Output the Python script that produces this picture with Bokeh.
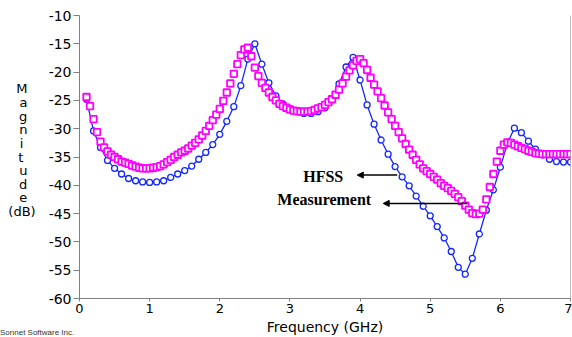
from bokeh.plotting import figure
from bokeh.layouts import column
from bokeh.models import (Label, Arrow, NormalHead, FixedTicker, Range1d, ColumnDataSource,
                          Span, Div)
from bokeh.embed import file_html
from bokeh.resources import INLINE

# HFSS simulation (blue circles), frequency grid in GHz
hfss_freq = [round(0.1 * i, 1) for i in range(1, 71)]
hfss_db = [
    -24.8, -30.4, -33.3, -35.6, -37.0, -38.0, -38.8, -39.2, -39.4, -39.5,
    -39.4, -39.2, -38.6, -38.0, -37.4, -36.6, -35.4, -34.2, -32.8, -31.0,
    -28.7, -26.1, -22.4, -17.7, -15.0, -18.6, -21.9, -24.2, -25.6, -26.5,
    -27.0, -27.3, -27.3, -27.0, -26.3, -24.8, -22.1, -19.1, -17.4, -21.4,
    -25.8, -29.2, -32.0, -34.5, -36.7, -38.5, -40.1, -41.9, -43.7, -45.4,
    -47.3, -49.3, -51.7, -54.5, -55.7, -52.9, -48.6, -44.4, -40.8, -36.8,
    -32.6, -29.9, -30.7, -32.2, -33.6, -34.6, -35.4, -35.8, -35.9, -35.9,
]

# Measurement (magenta squares)
meas_freq = [round(0.05 * i, 2) for i in range(2, 141)]
meas_db = [
    -24.4, -26.0, -28.3, -30.6, -32.3, -33.3, -34.0, -34.6, -35.0, -35.4,
    -35.8, -36.0, -36.2, -36.5, -36.7, -36.9, -37.0, -37.0, -37.0, -36.9,
    -36.8, -36.6, -36.3, -35.9, -35.5, -35.0, -34.6, -34.2, -33.9, -33.5,
    -33.0, -32.5, -31.9, -31.2, -30.4, -29.5, -28.5, -27.5, -26.5, -25.1,
    -23.6, -22.0, -20.3, -18.6, -17.0, -16.0, -15.7, -17.2, -19.2, -20.7,
    -21.9, -22.8, -23.6, -24.4, -25.0, -25.6, -26.0, -26.3, -26.6, -26.8,
    -26.9, -27.0, -27.0, -27.0, -26.9, -26.7, -26.4, -26.2, -25.8, -25.3,
    -24.8, -24.0, -23.1, -22.0, -20.8, -19.7, -18.8, -18.0, -17.7, -18.4,
    -19.6, -21.0, -22.2, -23.4, -24.6, -25.9, -27.1, -28.3, -29.5, -30.6,
    -31.7, -32.7, -33.7, -34.6, -35.5, -36.3, -37.0, -37.5, -38.0, -38.5,
    -39.0, -39.6, -40.1, -40.5, -41.0, -41.5, -42.1, -42.8, -43.6, -44.3,
    -44.9, -45.1, -45.0, -44.3, -42.5, -40.3, -38.0, -35.8, -33.9, -32.8,
    -32.4, -32.5, -32.8, -33.1, -33.4, -33.6, -33.9, -34.1, -34.3, -34.4,
    -34.5, -34.5, -34.5, -34.5, -34.5, -34.5, -34.5, -34.5, -34.5,
]

x_ticks = [0, 1, 2, 3, 4, 5, 6, 7]
y_ticks = [-60, -55, -50, -45, -40, -35, -30, -25, -20, -15, -10]
# stacked y title; trailing spaces only centre the single letters in a right-aligned block
y_title_lines = ["M  ", "a  ", "g  ", "n  ", "i   ", "t   ", "u  ", "d  ", "e  ", "(dB)", " "]

FONT = "DejaVu Sans"
AXIS_GRAY = "#808080"

fig = figure(width=572, height=337, x_range=Range1d(0, 7), y_range=Range1d(-60, -10),
             output_backend="svg", toolbar_location=None,
             min_border_left=79, min_border_right=2, min_border_top=15, min_border_bottom=39)
fig.outline_line_color = None
fig.grid.grid_line_color = None
fig.background_fill_color = "white"
fig.border_fill_color = "white"

# x axis
xa = fig.xaxis[0]
xa.ticker = FixedTicker(ticks=x_ticks)
xa.axis_line_color = AXIS_GRAY
xa.major_tick_line_color = AXIS_GRAY
xa.major_tick_out = 3
xa.major_tick_in = 0
xa.minor_tick_line_color = None
xa.major_label_text_font = FONT
xa.major_label_text_font_size = "13px"
xa.major_label_text_color = "black"
xa.major_label_standoff = 2
xa.axis_label = "Frequency (GHz)"
xa.axis_label_text_font = FONT
xa.axis_label_text_font_size = "14px"
xa.axis_label_text_font_style = "normal"
xa.axis_label_text_color = "black"
xa.axis_label_standoff = 3

# y axis
ya = fig.yaxis[0]
ya.ticker = FixedTicker(ticks=y_ticks)
ya.major_label_overrides = {t: str(t) for t in y_ticks}
ya.axis_line_color = AXIS_GRAY
ya.major_tick_line_color = AXIS_GRAY
ya.major_tick_out = 6
ya.major_tick_in = 0
ya.minor_tick_line_color = None
ya.major_label_text_font = FONT
ya.major_label_text_font_size = "14px"
ya.major_label_text_color = "black"
ya.major_label_standoff = 2
ya.axis_label = "\n".join(y_title_lines)
ya.axis_label_orientation = "horizontal"
ya.axis_label_text_font = FONT
ya.axis_label_text_font_size = "13px"
ya.axis_label_text_font_style = "normal"
ya.axis_label_text_color = "black"
ya.axis_label_text_line_height = 0.91
ya.axis_label_standoff = 10

# right frame line
fig.add_layout(Span(location=7, dimension="height", line_color=AXIS_GRAY, line_width=1))

hsrc = ColumnDataSource(dict(f=hfss_freq, db=hfss_db))
msrc = ColumnDataSource(dict(f=meas_freq, db=meas_db))

fig.line("f", "db", source=hsrc, line_color="#1428ff", line_width=1.3)
fig.scatter("f", "db", source=hsrc, marker="circle", size=6, line_color="#1428ff",
            line_width=1.3, fill_color="white")
fig.scatter("f", "db", source=msrc, marker="square", size=6.5, line_color="#ff00ff",
            line_width=1.8, fill_color="white")

# annotations
fig.add_layout(Label(x=3.19, y=-38.45, text="HFSS", text_font="Liberation Serif",
                     text_font_style="bold", text_font_size="16px", text_baseline="middle",
                     text_color="black"))
fig.add_layout(Label(x=2.82, y=-42.5, text="Measurement", text_font="Liberation Serif",
                     text_font_style="bold", text_font_size="16px", text_baseline="middle",
                     text_color="black"))
fig.add_layout(Arrow(end=NormalHead(size=6, fill_color="black", line_color="black"),
                     x_start=4.53, y_start=-38.2, x_end=3.96, y_end=-38.2,
                     line_color="black", line_width=1.5))
fig.add_layout(Arrow(end=NormalHead(size=6, fill_color="black", line_color="black"),
                     x_start=5.53, y_start=-43.2, x_end=4.33, y_end=-43.2,
                     line_color="black", line_width=1.5))

# credit line in the bottom-left corner, pulled up over the figure's lower border
credit = Div(text='<span style="font-family:\'Liberation Sans\';font-size:8px;color:#333333;'
                  'line-height:10px;white-space:nowrap">Sonnet Software Inc.</span>',
             width=120, height=10, margin=(-14, 0, 0, 0))

p = column(fig, credit, spacing=0)

open("out.html", "w").write(file_html(p, INLINE))
